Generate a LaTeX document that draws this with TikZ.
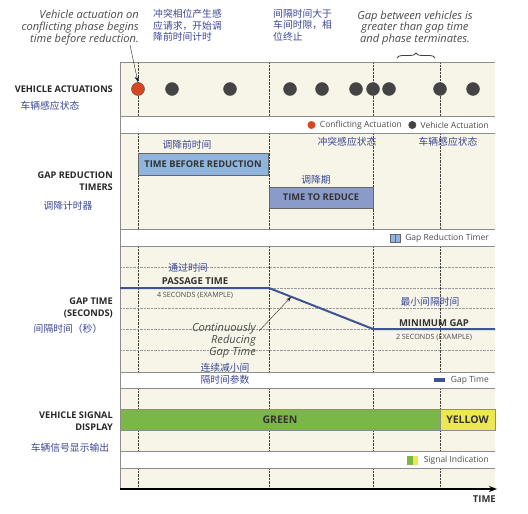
\documentclass[tikz,border=0pt]{standalone}
\usepackage{fontspec}
\setmainfont{Open Sans}
\newfontfamily\cjk{Noto Sans CJK SC}
\usepackage{tikz}
\usetikzlibrary{positioning,arrows.meta,decorations.pathreplacing}
\definecolor{panel}{RGB}{246,245,231}
\definecolor{cnblue}{RGB}{58,70,150}
\definecolor{notegray}{RGB}{75,75,75}
\definecolor{tbrblue}{RGB}{143,180,222}
\definecolor{ttrblue}{RGB}{139,155,201}
\definecolor{gapblue}{RGB}{62,84,148}
\definecolor{sgreen}{RGB}{122,182,72}
\definecolor{syellow}{RGB}{238,232,80}
\definecolor{cred}{RGB}{214,72,32}
\definecolor{cgray}{RGB}{68,68,68}

\tikzset{
  seclabel/.style={font=\bfseries\fontsize{9.2}{11.5}\selectfont,align=right,anchor=east,text=black!85,inner sep=0pt},
  cnlabel/.style={font=\cjk\fontsize{9.8}{11.5}\selectfont,text=cnblue,align=left,inner sep=0pt},
  note/.style={font=\itshape\fontsize{11.1}{11.8}\selectfont,text=notegray,inner sep=0pt},
  legtext/.style={font=\fontsize{8.5}{9}\selectfont,text=black!70,inner sep=0pt},
  timerbox/.style={draw=black!60,inner sep=0pt,font=\bfseries\fontsize{9.3}{10}\selectfont,text=black!80},
  tag/.style={font=\bfseries\fontsize{9.5}{10}\selectfont,text=black!80,inner sep=0pt},
  sigtag/.style={font=\bfseries\fontsize{10.5}{11}\selectfont,text=black!80,inner sep=0pt},
  tiny/.style={font=\fontsize{7.2}{8}\selectfont,text=black!70,inner sep=0pt},
  actu/.style={circle,draw=black!70,fill=cgray,minimum size=13pt,inner sep=0pt},
  vline/.style={black!75,densely dotted},
  hline/.style={black!40,densely dotted},
}

\begin{document}
\begin{tikzpicture}[x=1pt,y=-1pt]
\useasboundingbox (0,0) rectangle (528,514);

% panels and legend strips
\foreach \a/\b in {62/116,133/229,246/372,388/451,468/489}
  \fill[panel] (120,\a) rectangle (495,\b);
\foreach \a/\b in {62/116,133/229,246/372,388/451,468/489}
  \foreach \x in {138,269,373,440}
    \draw[vline] (\x,\a) -- (\x,\b);
\foreach \y in {267,288,308,329,350}
  \draw[hline] (120,\y) -- (495,\y);
\foreach \y in {62,116,133,229,246,372,388,451,468}
  \draw[black!45] (120,\y) -- (495,\y);
\draw[black!45] (120,62) -- (120,489);

% row labels
\node[seclabel] (s1) at (113,89) {VEHICLE ACTUATIONS};
\node[cnlabel] (s1z) at (50,106) {车辆感应状态};
\node[seclabel] (s2) at (113,181) {GAP REDUCTION\\TIMERS};
\node[cnlabel] (s2z) at (68,206) {调降计时器};
\node[seclabel] (s3) at (113,308) {GAP TIME\\(SECONDS)};
\node[cnlabel] (s3z) at (68,329) {间隔时间（秒）};
\node[seclabel] (s4) at (113,421) {VEHICLE SIGNAL\\DISPLAY};
\node[cnlabel] (s4z) at (70,448) {车辆信号显示输出};

% notes on top
\node[note,align=right,anchor=north east] (n1) at (139,10) {Vehicle actuation on\\conflicting phase begins\\time before reduction.};
\node[cnlabel,anchor=north west] (z1) at (153,9) {冲突相位产生感\\应请求，开始调\\降前时间计时};
\node[cnlabel,anchor=north west] (z2) at (273,9) {间隔时间大于\\车间时隙，相\\位终止};
\node[note,align=center] (n2) at (415,28) {Gap between vehicles is\\greater than gap time\\and phase terminates.};
\coordinate (b0) at (397,58);
\coordinate (b1) at (435,58);
\draw[decorate,decoration={brace,amplitude=5pt},black!75,line width=0.8pt] (b0) -- (b1);

% actuations
\node[actu,fill=cred] (c0) at (138,89) {};
\foreach \x [count=\i] in {172,230,290,322,356,373,389,440,473}
  \node[actu] (c\i) at (\x,89) {};
\draw[-{Stealth[length=6pt]},black!85] ([xshift=-9pt]n1.south east) -- (c0.north);

\node[legtext,anchor=east] (k2t) at (489,125) {Vehicle Actuation};
\node[circle,fill=cgray,minimum size=8pt,inner sep=0pt,left=4pt of k2t] (k2) {};
\node[legtext,left=6pt of k2] (k1t) {Conflicting Actuation};
\node[circle,fill=cred,minimum size=8pt,inner sep=0pt,left=4pt of k1t] (k1) {};

% gap reduction timers
\node[cnlabel] (z3) at (187,145) {调降前时间};
\node[timerbox,fill=tbrblue,minimum width=130pt,minimum height=22pt] (tbr) at (203,164) {TIME BEFORE REDUCTION};
\node[cnlabel] (z4) at (316,180) {调降期};
\node[timerbox,fill=ttrblue,minimum width=104pt,minimum height=21pt] (ttr) at (321,197.5) {TIME TO REDUCE};
\node[cnlabel] (z5) at (347,142) {冲突感应状态};
\node[cnlabel] (z6) at (448,142) {车辆感应状态};

\node[legtext,anchor=east] (k3t) at (489,238) {Gap Reduction Timer};
\node[draw=black!60,fill=tbrblue,minimum width=10pt,minimum height=8pt,inner sep=0pt,left=5pt of k3t] (k3) {};
\draw[black!60] (k3.north) -- (k3.south);

% gap time
\coordinate (g0) at (120,288);
\coordinate (g1) at (269,288);
\coordinate (g2) at (373,329);
\coordinate (g3) at (495,329);
\draw[gapblue,line width=2pt] (g0) -- (g1) -- (g2) -- (g3);
\node[cnlabel] (z7) at (188,268) {通过时间};
\node[tag] (pt) at (195,281) {PASSAGE TIME};
\node[tiny] (pt4) at (195,295) {4 SECONDS (EXAMPLE)};
\node[note,align=right,anchor=north east] (cont) at (256,323) {Continuously\\Reducing\\Gap Time};
\coordinate (g4) at (291,297);
\draw[-{Stealth[length=5pt]},black!85] ([xshift=3pt,yshift=-8pt]cont.north east) -- (g4);
\node[cnlabel] (z8) at (225,374) {连续减小间\\隔时间参数};
\node[cnlabel] (z9) at (430,302) {最小间隔时间};
\node[tag] (mg) at (434,323) {MINIMUM GAP};
\node[tiny] (mg2) at (434,337) {2 SECONDS (EXAMPLE)};

\node[legtext,anchor=east] (k4t) at (489,380) {Gap Time};
\node[fill=gapblue,minimum width=11pt,minimum height=4pt,inner sep=0pt,left=6pt of k4t] (k4) {};

% signal display
\node[draw=black!45,fill=sgreen,minimum width=320pt,minimum height=21pt,inner sep=0pt,sigtag] (green) at (280,419.5) {GREEN};
\node[draw=black!45,fill=syellow,minimum width=55pt,minimum height=21pt,inner sep=0pt,sigtag] (yellow) at (467.5,419.5) {YELLOW};

\node[legtext,anchor=east] (k6t) at (489,460) {Signal Indication};
\node[fill=syellow,minimum width=5.5pt,minimum height=9pt,inner sep=0pt,left=5pt of k6t] (k6) {};
\node[fill=sgreen,minimum width=5.5pt,minimum height=9pt,inner sep=0pt,left=0pt of k6] (k5) {};

% time axis
\coordinate (t0) at (120,489);
\coordinate (t1) at (497,489);
\draw[line width=1.2pt,-{Stealth[length=8pt]}] (t0) -- (t1);
\node[tag,anchor=east] (time) at (496,499) {TIME};
\end{tikzpicture}
\end{document}
